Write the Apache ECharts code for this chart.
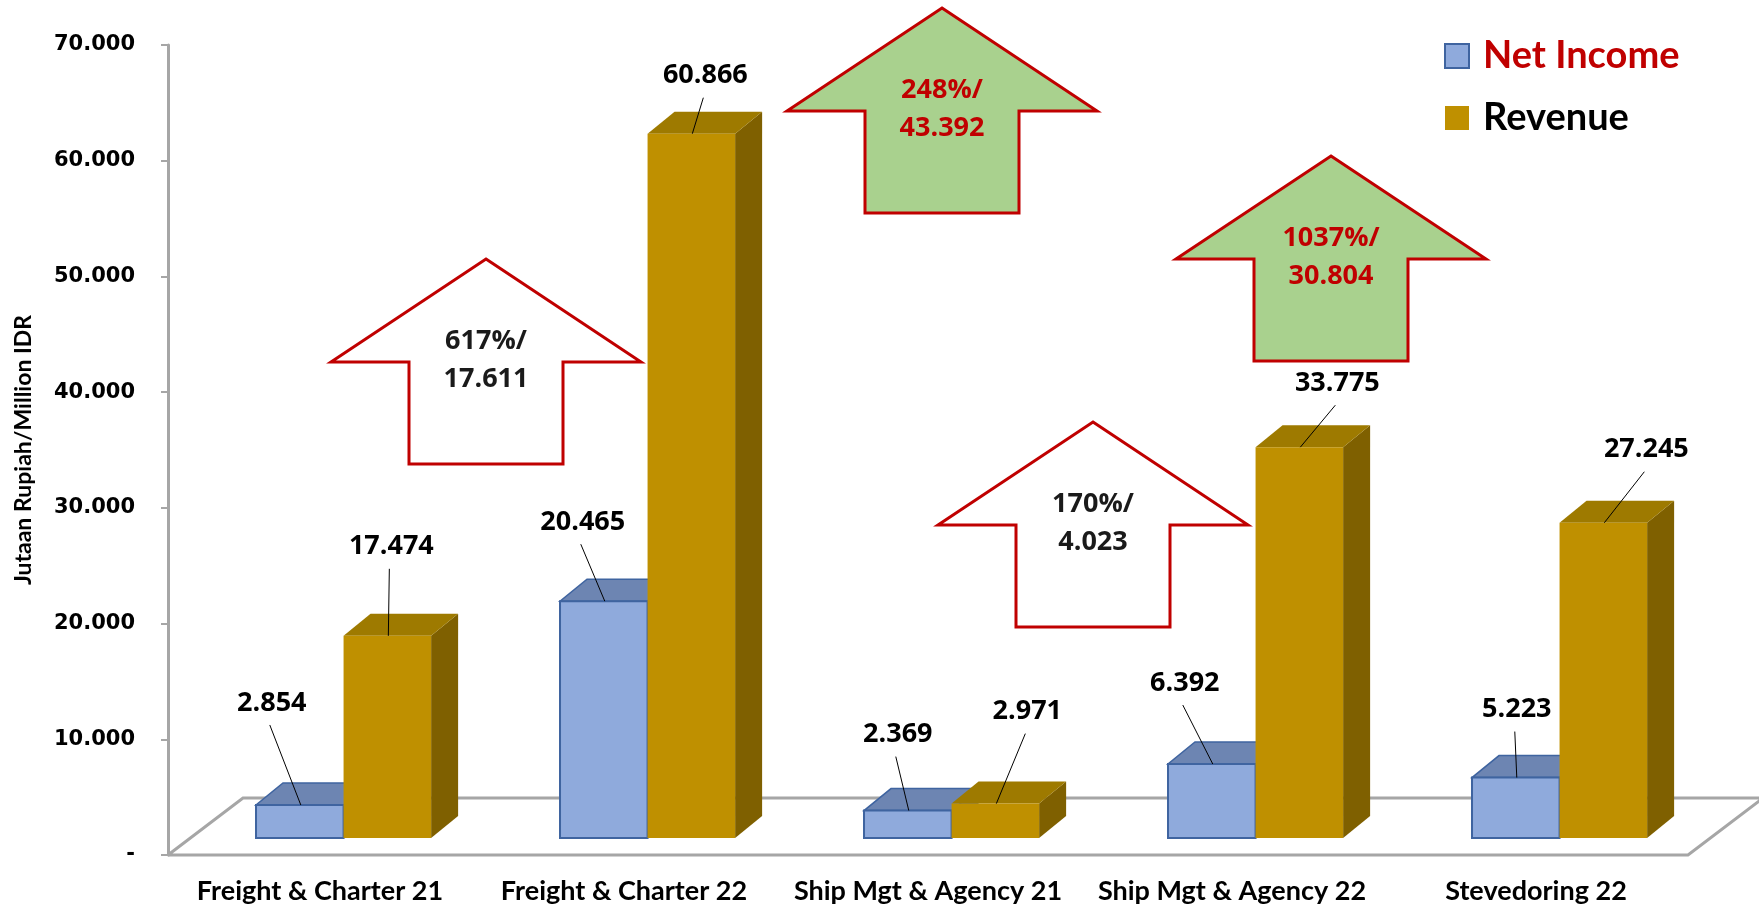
<!DOCTYPE html>
<html>
<head>
<meta charset="utf-8">
<script src="https://cdn.jsdelivr.net/npm/echarts@6/dist/echarts.min.js"></script>
<style>
  html, body { margin: 0; padding: 0; background: #fff; }
  #chart { width: 1759px; height: 906px; }
</style>
</head>
<body>
<div id="chart"></div>
<script>
// Data (Jutaan Rupiah / Million IDR)
const categories = [
  "Freight & Charter 21",
  "Freight & Charter 22",
  "Ship Mgt & Agency 21",
  "Ship Mgt & Agency 22",
  "Stevedoring 22",
];
const netIncome = [2854, 20465, 2369, 6392, 5223];
const revenue = [17474, 60866, 2971, 33775, 27245];

// growth call-outs: first line / second line
const growthPct = ["617%/", "248%/", "170%/", "1037%/"];
const growthAmount = ["17.611", "43.392", "4.023", "30.804"];

// label nudges (px) from the top of each bar, as placed in the slide
const netLabelShift = [[-28, -102], [-21, -79], [-10, -76], [-27, -81], [1, -68]];
const revLabelShift = [[4, -89], [14, -58], [32, -92], [38, -64], [43, -73]];

const NET = { front: "#8FAADC", top: "#6D85B2", side: "#5B72A0", edge: "#3F64A0" };
const REV = { front: "#BF9000", top: "#9E7A00", side: "#7F6000", edge: null };
const GRID_GRAY = "#A6A6A6";
const NUM_FONT = "bold 27px 'Open Sans'";

// format 17474 -> "17.474"
function fmt(v) {
  if (v === 0) return "-";
  return (v / 1000).toFixed(3);
}

// 3D-looking bar: front face lifted a bit off the floor's front edge
function barRenderer(slot, colors, shifts) {
  const lift = 17, dx = 27, dy = -22;
  return function (params, api) {
    const i = api.value(0);
    const v = api.value(1);
    const band = api.size([1, 0])[0];
    const top = api.coord([i, v]);
    const base = api.coord([i, 0]);
    const w = band * 0.288;
    const x0 = top[0] - band * 0.2105 + slot * w;
    const x1 = x0 + w;
    const yT = top[1] - lift;
    const yB = base[1] - lift;
    const cx = x0 + w / 2;
    const sh = shifts[i];
    const lx = cx + sh[0];
    const ly = yT + sh[1];
    return {
      type: "group",
      children: [
        {
          type: "polygon",
          shape: { points: [[x1, yT], [x1 + dx, yT + dy], [x1 + dx, yB + dy], [x1, yB]] },
          style: { fill: colors.side },
        },
        {
          type: "polygon",
          shape: { points: [[x0, yT], [x1, yT], [x1 + dx, yT + dy], [x0 + dx, yT + dy]] },
          style: { fill: colors.top, stroke: colors.edge, lineWidth: colors.edge ? 1.5 : 0 },
        },
        {
          type: "rect",
          shape: { x: x0, y: yT, width: w, height: yB - yT },
          style: { fill: colors.front, stroke: colors.edge, lineWidth: colors.edge ? 2 : 0 },
        },
        {
          type: "line",
          shape: { x1: lx - 2, y1: ly + 22, x2: cx + 1, y2: yT },
          style: { stroke: "#000", lineWidth: 1 },
        },
        {
          type: "text",
          x: lx,
          y: ly,
          style: {
            text: fmt(v),
            fill: "#000",
            font: NUM_FONT,
            align: "center",
            verticalAlign: "middle",
          },
        },
      ],
    };
  };
}

// up-arrow call-out shape
function arrow(cx, tipY, green, idx) {
  const wing = 155, shaft = 77, head = 103, bottom = tipY + 205;
  const pts = [
    [cx, tipY], [cx + wing, tipY + head], [cx + shaft, tipY + head], [cx + shaft, bottom],
    [cx - shaft, bottom], [cx - shaft, tipY + head], [cx - wing, tipY + head],
  ];
  const txtColor = green ? "#C00000" : "#1A1A1A";
  return [
    {
      type: "polygon",
      shape: { points: pts },
      style: { fill: green ? "#A9D18E" : "#fff", stroke: "#C00000", lineWidth: 3 },
      z: 5,
    },
    {
      type: "text", x: cx, y: tipY + 82, z: 6,
      style: { text: growthPct[idx], fill: txtColor, font: NUM_FONT, align: "center", verticalAlign: "middle" },
    },
    {
      type: "text", x: cx, y: tipY + 120, z: 6,
      style: { text: growthAmount[idx], fill: txtColor, font: NUM_FONT, align: "center", verticalAlign: "middle" },
    },
  ];
}

const chart = echarts.init(document.getElementById("chart"));

const option = {
  animation: false,
  backgroundColor: "#fff",
  grid: { left: 168, right: 71, top: 45, bottom: 51, containLabel: false },
  legend: {
    orient: "vertical",
    left: 1439,
    top: 31,
    itemWidth: 24,
    itemHeight: 24,
    itemGap: 22,
    selectedMode: false,
    data: [
      {
        name: "Net Income",
        icon: "rect",
        itemStyle: { color: NET.front, borderColor: NET.edge, borderWidth: 2 },
        textStyle: { color: "#C00000" },
      },
      { name: "Revenue", icon: "rect", itemStyle: { color: REV.front }, textStyle: { color: "#000" } },
    ],
    textStyle: {
      fontFamily: "Lato",
      fontWeight: "bold",
      fontSize: 38,
      lineHeight: 40,
      padding: [0, 0, 0, 9],
    },
  },
  xAxis: {
    type: "category",
    data: categories,
    axisLine: { show: false },
    axisTick: { show: false },
    axisLabel: {
      interval: 0,
      margin: 21,
      color: "#000",
      fontFamily: "Lato",
      fontWeight: "bold",
      fontSize: 27,
      lineHeight: 30,
    },
  },
  yAxis: {
    type: "value",
    min: 0,
    max: 70000,
    interval: 10000,
    axisLine: { show: true, lineStyle: { color: GRID_GRAY, width: 3 } },
    axisTick: { show: true, length: 7, lineStyle: { color: GRID_GRAY, width: 2 } },
    splitLine: { show: false },
    axisLabel: {
      margin: 33,
      color: "#000",
      fontFamily: "DejaVu Sans",
      fontWeight: "bold",
      fontSize: 21,
      formatter: (v) => fmt(v),
    },
  },
  graphic: [
    {
      type: "text",
      x: 24,
      y: 450,
      rotation: Math.PI / 2,
      style: {
        text: "Jutaan Rupiah/Million IDR",
        fill: "#000",
        font: "bold 23px Lato",
        align: "center",
        verticalAlign: "middle",
      },
    },
    ...arrow(486, 259, false, 0),
    ...arrow(942, 8, true, 1),
    ...arrow(1093, 422, false, 2),
    ...arrow(1331, 156, true, 3),
  ],
  series: [
    {
      // floor of the 3D plot area
      type: "custom",
      silent: true,
      z: 1,
      data: [[0, 0]],
      renderItem: (params) => {
        const cs = params.coordSys;
        const x0 = cs.x, x1 = cs.x + cs.width, y0 = cs.y + cs.height;
        const dx = 75, dy = -57;
        return {
          type: "polyline",
          shape: { points: [[x0, y0], [x1, y0], [x1 + dx, y0 + dy], [x0 + dx, y0 + dy], [x0, y0]] },
          style: { stroke: GRID_GRAY, lineWidth: 3, fill: null },
        };
      },
    },
    {
      name: "Net Income",
      type: "custom",
      z: 2,
      itemStyle: { color: NET.front, borderColor: NET.edge, borderWidth: 2 },
      encode: { x: 0, y: 1 },
      data: netIncome.map((v, i) => [i, v]),
      renderItem: barRenderer(0, NET, netLabelShift),
    },
    {
      name: "Revenue",
      type: "custom",
      z: 3,
      itemStyle: { color: REV.front },
      encode: { x: 0, y: 1 },
      data: revenue.map((v, i) => [i, v]),
      renderItem: barRenderer(1, REV, revLabelShift),
    },
  ],
};

chart.setOption(option);
</script>
</body>
</html>
